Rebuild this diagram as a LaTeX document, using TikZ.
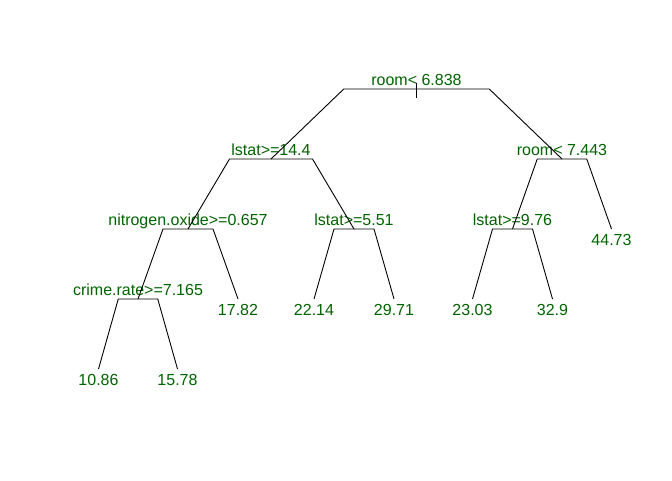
\documentclass[tikz,border=0pt]{standalone}
\usepackage{fontspec}
\setmainfont{Liberation Sans}
\usetikzlibrary{calc}
\definecolor{treegreen}{HTML}{006400}

\begin{document}
\begin{tikzpicture}[
  x = 1pt, y = 1pt,
  level distance = 70pt,
  level 1/.style = {sibling distance = 291pt},
  every label/.style = {inner sep = 0pt, text = treegreen,
    font = \fontsize{16}{19}\selectfont},
  split/.style = {inner sep = 0pt, label = {[anchor = base, label distance = 2.5pt]90:#1}},
  leaf/.style = {inner sep = 0pt, label = {[label distance = 4.5pt]270:#1}},
  edge from parent/.style = {draw, line width = 0.9pt},
  edge from parent path = {(\tikzparentnode.center)
    -- ($(\tikzparentnode.center)!0.5!(\tikzparentnode.center -| \tikzchildnode.center)$)
    -- (\tikzchildnode.center)}
]
\useasboundingbox (0,0) rectangle (672,480);

\node [split = {room< 6.838}] (room1) at (416.5,391) {}
  child {
    node [split = {lstat>=14.4}] (lstat1) {} [sibling distance = 166pt]
      child {
        node [split = {nitrogen.oxide>=0.657}] (nox) {} [sibling distance = 100pt]
          child {
            node [split = {crime.rate>=7.165}] (crim) {} [sibling distance = 79pt]
              child { node [leaf = {10.86}] (leaf1) {} }
              child { node [leaf = {15.78}] (leaf2) {} }
          }
          child { node [leaf = {17.82}] (leaf3) {} }
      }
      child {
        node [split = {lstat>=5.51}] (lstat2) {} [sibling distance = 80pt]
          child { node [leaf = {22.14}] (leaf4) {} }
          child { node [leaf = {29.71}] (leaf5) {} }
      }
  }
  child {
    node [split = {room< 7.443}] (room2) {} [sibling distance = 99pt]
      child {
        node [split = {lstat>=9.76}] (lstat3) {} [sibling distance = 80pt]
          child { node [leaf = {23.03}] (leaf6) {} }
          child { node [leaf = {32.9}] (leaf7) {} }
      }
      child { node [leaf = {44.73}] (leaf8) {} }
  };

% root tick
\draw [line width = 0.9pt] ([yshift = 6pt]room1.center) -- ([yshift = -9pt]room1.center);

\end{tikzpicture}
\end{document}
